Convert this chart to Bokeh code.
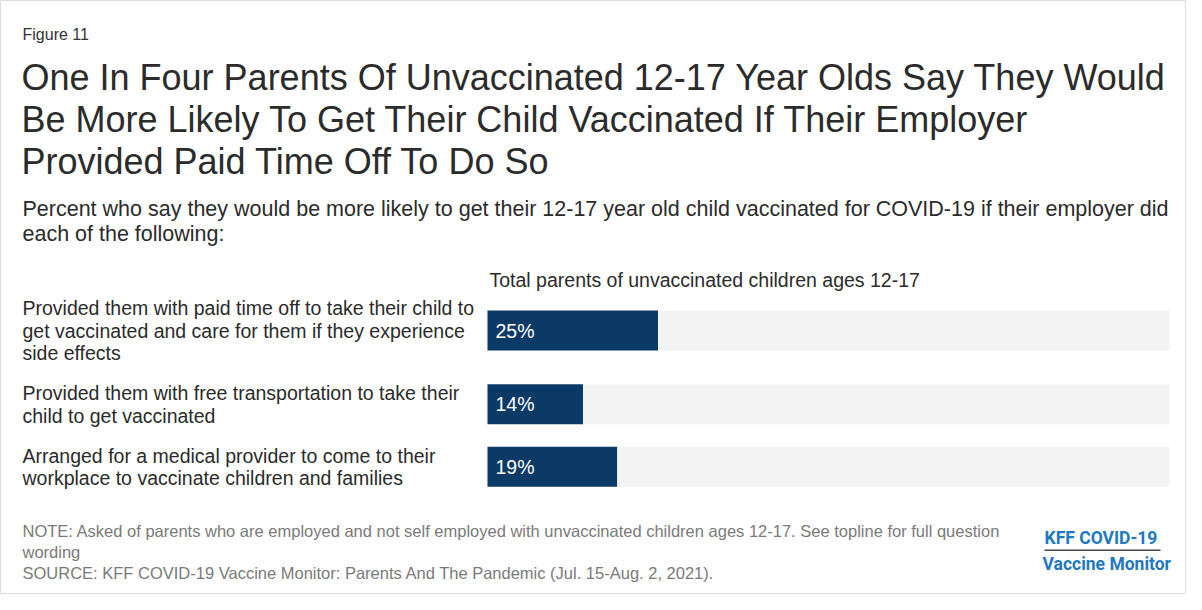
from bokeh.plotting import figure
from bokeh.models import Range1d, Label, ColumnDataSource, BoxAnnotation
from bokeh.core.properties import value
from bokeh.embed import file_html
from bokeh.resources import INLINE

# ---------------- data ----------------
categories = [
    "Provided them with paid time off to take their child to\nget vaccinated and care for them if they experience\nside effects",
    "Provided them with free transportation to take their\nchild to get vaccinated",
    "Arranged for a medical provider to come to their\nworkplace to vaccinate children and families",
]
values = [25, 14, 19]
series_name = "Total parents of unvaccinated children ages 12-17"
figure_label = "Figure 11"
title_lines = [
    "One In Four Parents Of Unvaccinated 12-17 Year Olds Say They Would",
    "Be More Likely To Get Their Child Vaccinated If Their Employer",
    "Provided Paid Time Off To Do So",
]
subtitle_lines = [
    "Percent who say they would be more likely to get their 12-17 year old child vaccinated for COVID-19 if their employer did",
    "each of the following:",
]
note_lines = [
    "NOTE: Asked of parents who are employed and not self employed with unvaccinated children ages 12-17. See topline for full question",
    "wording",
    "SOURCE: KFF COVID-19 Vaccine Monitor: Parents And The Pandemic (Jul. 15-Aug. 2, 2021).",
]
logo_lines = ["KFF COVID-19", "Vaccine Monitor"]

# ---------------- layout ----------------
W, H = 1186, 594
PX_PER_PCT = 6.82
X0 = 487            # pixel of 0% inside the figure
Y0 = 330            # pixel (from top) of first bar centre
LINE = 22.5         # label line height (px)
GAP = 17.5          # gap between rows (px)
BAR_H = 40

FONT = "Liberation Sans"
NAVY = "#0c3a66"
TXT = "#2b2b2b"

# row centres (in px, downward) derived from the number of label lines
split = [c.split("\n") for c in categories]
row_h = [max(len(s) * LINE, BAR_H) for s in split]
centres = [0.0]
for i in range(1, len(row_h)):
    centres.append(centres[-1] + row_h[i - 1] / 2 + GAP + row_h[i] / 2)

p = figure(width=W, height=H, output_backend="svg", toolbar_location=None,
           x_axis_type=None, y_axis_type=None,
           x_range=Range1d(-X0 / PX_PER_PCT, (W - X0) / PX_PER_PCT),
           y_range=Range1d(H - Y0, -Y0),
           min_border=0, min_border_left=0, min_border_right=0,
           min_border_top=0, min_border_bottom=0)
p.grid.visible = False
p.outline_line_color = "#dddddd"
p.background_fill_color = "white"
p.border_fill_color = "white"

src = ColumnDataSource(dict(y=centres, v=values, full=[100] * len(values),
                            lab=[f"{v}%" for v in values]))

# light track
p.hbar(y="y", left=0, right="full", height=BAR_H, source=src,
       fill_color="#f3f3f3", line_color=None)
# bars
p.hbar(y="y", left=0, right="v", height=BAR_H, source=src,
       fill_color=NAVY, line_color=None)
# value labels
p.text(x=0, y="y", text="lab", source=src, x_offset=8,
       text_font=value(FONT), text_font_size="19.5px", text_color="white",
       text_align="left", text_baseline="middle")

# category labels, one row per line, centred on bar
ly, lt, lo = [], [], []
for i, parts in enumerate(split):
    n = len(parts)
    for j, t in enumerate(parts):
        ly.append(centres[i])
        lt.append(t)
        lo.append((j - (n - 1) / 2) * LINE)
csrc = ColumnDataSource(dict(y=ly, t=lt, o=lo))
p.text(x=0, y="y", text="t", y_offset="o", source=csrc, x_offset=-(X0 - 22),
       text_font=value(FONT), text_font_size="19.5px", text_color=TXT,
       text_align="left", text_baseline="middle")


def lab(text, X, Y, size, color=TXT, style="normal", font=FONT, align="left"):
    # X, Y: page coordinates of the text's left / vertical middle
    p.add_layout(Label(x=X - 8, y=H - (Y - 8), x_units="screen", y_units="screen",
                       text=text, text_font=font, text_font_size=size,
                       text_color=color, text_font_style=style,
                       text_align=align, text_baseline="middle"))


lab(figure_label, 30, 42, "16px", "#333333")
for k, t in enumerate(title_lines):
    lab(t, 29, 85 + 42 * k, "36px", TXT)
for k, t in enumerate(subtitle_lines):
    lab(t, 30, 216 + 25 * k, "21.5px", TXT)
lab(series_name, 497, 287, "19.5px", TXT)
for k, t in enumerate(note_lines):
    lab(t, 30, 538 + 21 * k, "16.5px", "#7a7a7a")

lab(logo_lines[0], 1052, 545, "17.5px", "#1f78c1", "bold", "Roboto")
lab(logo_lines[1], 1050, 571, "17.5px", "#1f78c1", "bold", "Roboto")
p.add_layout(BoxAnnotation(left=1052 - 8, right=1168 - 8,
                           top=H - (557 - 8), bottom=H - (558.5 - 8),
                           left_units="screen", right_units="screen",
                           top_units="screen", bottom_units="screen",
                           fill_color="#444444", fill_alpha=1, line_color=None))

open("out.html", "w").write(file_html(p, INLINE))
